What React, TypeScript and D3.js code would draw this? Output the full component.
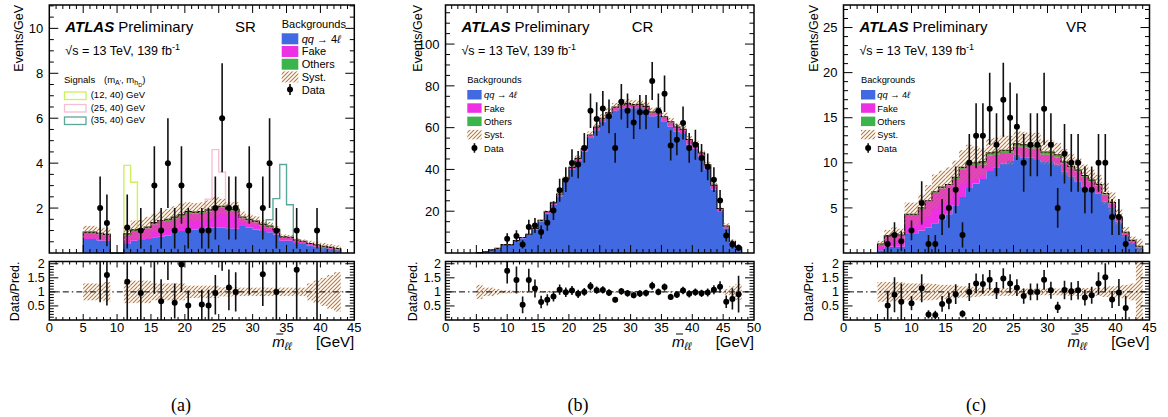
import React from "react";
import * as d3 from "d3";

const FONT = "'Liberation Sans', Arial, Helvetica, sans-serif";
const MAIN_TOP = 5;
const MAIN_BOT = 253;
const R_TOP = 261.5;
const R_BOT = 320;
const R_MAX = 2.08;

const C_QQ = "#4169e1";
const C_FAKE = "#ee30e4";
const C_OTH = "#3cb44b";
const C_SYST = "#b9783c";

// ---------------- (a) SR ----------------
const edgesSR = [5, 6, 7, 8, 9, 11, 12, 13, 14, 15, 16, 17, 18, 19, 20, 21, 22, 23, 24, 25, 26, 27, 28, 29, 30, 31, 32, 33, 34, 35, 36, 37, 38, 39, 40, 41, 42, 43];
const qqSR = [0.62, 0.62, 0.56, 0.55, 0, 0.4, 0.55, 0.58, 0.62, 0.7, 0.72, 0.78, 0.95, 0.98, 1.0, 1.05, 1.1, 1.12, 1.12, 1.12, 1.1, 1.08, 1.2, 1.12, 1.05, 0.98, 0.92, 0.82, 0.55, 0.55, 0.45, 0.4, 0.33, 0.28, 0.22, 0.19, 0.15];
const fakeSR = [0.27, 0.27, 0.28, 0.24, 0, 0.4, 0.43, 0.42, 0.48, 0.58, 0.66, 0.65, 0.58, 0.65, 0.78, 0.7, 0.68, 0.73, 0.86, 0.89, 0.78, 0.8, 0.35, 0.33, 0.32, 0.25, 0.23, 0.17, 0.15, 0.13, 0.11, 0.1, 0.07, 0.06, 0.06, 0.04, 0.03];
const othersSR = [0.04, 0.04, 0.04, 0.04, 0, 0.05, 0.05, 0.05, 0.05, 0.07, 0.07, 0.07, 0.07, 0.07, 0.07, 0.07, 0.07, 0.07, 0.07, 0.07, 0.07, 0.07, 0.05, 0.05, 0.05, 0.05, 0.05, 0.05, 0.02, 0.02, 0.02, 0.02, 0.02, 0.02, 0.02, 0.02, 0.02];
const systSR = [0.3, 0.3, 0.3, 0.35, 0, 0.4, 0.4, 0.4, 0.4, 0.3, 0.3, 0.3, 0.3, 0.3, 0.22, 0.22, 0.22, 0.22, 0.22, 0.16, 0.16, 0.16, 0.15, 0.15, 0.15, 0.15, 0.15, 0.15, 0.15, 0.15, 0.15, 0.15, 0.3, 0.4, 0.5, 0.6, 0.7];
const dataXSR = [7.5, 8.5, 11.5, 13.5, 15.5, 16.5, 17.5, 18.5, 19.5, 20.5, 22.5, 23.5, 24.5, 25.5, 26.5, 27.5, 29.5, 31.5, 32.5, 33.5, 36.5, 39.5];
const dataYSR = [2, 1.33, 1.14, 1, 3, 1, 4, 1, 3, 1, 1, 1, 2, 6, 2, 2, 3, 2, 4, 1, 1, 1];
const dataLoSR = [0.6, 0.3, 0.2, 0.2, 1.3, 0.2, 2.0, 0.2, 1.3, 0.2, 0.2, 0.2, 0.6, 3.6, 0.6, 0.6, 1.3, 0.6, 2.0, 0.2, 0.2, 0.2];
const dataHiSR = [3.4, 2.6, 2.6, 2.0, 4.75, 2.0, 6.0, 2.0, 4.75, 2.0, 2.0, 2.0, 3.4, 8.45, 3.4, 3.4, 4.75, 3.4, 6.0, 2.0, 2.0, 2.0];
const ratioXSR = [7.5, 8.5, 11.5, 13.5, 15.5, 16.5, 17.5, 18.5, 19.5, 20.5, 22.5, 23.5, 24.5, 25.5, 26.5, 27.5, 29.5, 31.5, 33.5, 36.5, 39.5];
const ratioYSR = [2.4, 1.6, 1.36, 0.96, 2.4, 0.67, 2.8, 0.61, 1.97, 0.52, 0.55, 0.52, 0.96, 2.9, 1.16, 1.0, 2.3, 1.63, 1.0, 1.79, 2.8];
const ratioLoSR = [0.63, 0.52, 0.0, 0.0, 0.93, 0.0, 1.42, 0.05, 1.0, 0.0, 0.0, 0.0, 0.2, 1.75, 0.35, 0.3, 0.9, 0.5, 0.0, 0.0, 0.0];
const ratioHiSR = [4, 2.3, 2.3, 1.9, 4, 1.45, 4, 1.3, 2.3, 1.05, 1.08, 1.08, 1.6, 4, 1.8, 1.7, 4, 2.3, 2.3, 2.3, 4];
// signals (height above the background)
const sig12Edges = [11, 12, 13];
const sig12Vals = [3.05, 2.12];
const sig25Edges = [23, 24, 25, 26];
const sig25Vals = [0.48, 2.55, 1.52];
const sig35Edges = [32, 33, 34, 35, 36];
const sig35Vals = [0.28, 1.38, 3.22, 1.45];

// ---------------- (b) CR ----------------
const edgesCR = [5, 6, 7, 8, 9, 11, 12, 13, 14, 15, 16, 17, 18, 19, 20, 21, 22, 23, 24, 25, 26, 27, 28, 29, 30, 31, 32, 33, 34, 35, 36, 37, 38, 39, 40, 41, 42, 43, 44, 45, 46, 47, 48];
const qqCR = [0.17, 0.54, 1.39, 2.09, 3.8, 5.65, 7.1, 8.65, 11.25, 14.9, 19.0, 23.1, 27.2, 34.4, 39.8, 44.0, 48.6, 55.0, 58.7, 62.8, 65.5, 68.1, 69.3, 69.8, 69.3, 69.4, 68.3, 65.5, 65.8, 63.1, 60.6, 58.1, 56.9, 51.9, 49.9, 45.5, 39.9, 30.4, 19.6, 11.85, 4.95, 2.45];
const fakeCR = [0.02, 0.05, 0.1, 0.1, 0.15, 0.2, 0.25, 0.3, 0.4, 0.5, 0.6, 0.7, 0.8, 0.9, 1.0, 1.1, 1.2, 1.3, 1.4, 1.5, 1.5, 1.5, 1.5, 1.5, 1.5, 1.6, 1.7, 1.8, 1.8, 1.9, 2.0, 2.0, 2.1, 2.2, 2.2, 2.3, 2.2, 2.0, 1.6, 1.0, 0.5, 0.2];
const othersCR = [0.01, 0.01, 0.01, 0.01, 0.05, 0.05, 0.05, 0.05, 0.05, 0.2, 0.2, 0.2, 0.2, 0.2, 0.2, 0.2, 0.2, 0.2, 0.2, 0.2, 0.2, 0.2, 0.2, 0.2, 0.2, 0.2, 0.2, 0.2, 0.2, 0.2, 0.2, 0.2, 0.2, 0.2, 0.2, 0.1, 0.1, 0.1, 0.1, 0.05, 0.05, 0.05];
const systCR = [0.25, 0.15, 0.15, 0.1, 0.05, 0.03, 0.03, 0.03, 0.03, 0.03, 0.03, 0.03, 0.03, 0.03, 0.03, 0.03, 0.03, 0.03, 0.03, 0.03, 0.03, 0.03, 0.03, 0.03, 0.03, 0.03, 0.03, 0.03, 0.03, 0.03, 0.03, 0.03, 0.03, 0.03, 0.03, 0.03, 0.03, 0.03, 0.03, 0.1, 0.2, 0.28];
const dataXCR = [10, 11.5, 12.5, 13.5, 14.5, 15.5, 16.5, 17.5, 18.5, 19.5, 20.5, 21.5, 22.5, 23.5, 24.5, 25.5, 26.5, 27.5, 28.5, 29.5, 30.5, 31.5, 32.5, 33.5, 34.5, 35.5, 36.5, 37.5, 38.5, 39.5, 40.5, 41.5, 42.5, 43.5, 44.5, 45.5, 46.5, 47.5];
const dataYCR = [6.8, 8.1, 4.1, 12.4, 13.2, 10.0, 14.5, 20.3, 30.0, 35.1, 43.1, 42.3, 50.3, 68.1, 64.1, 69.2, 65.4, 50.3, 72.4, 68.1, 62.5, 67.4, 67.4, 82.3, 68.1, 76.2, 51.5, 54.2, 62.2, 50.3, 51.8, 45.5, 41.2, 35.1, 25.1, 8.4, 4.1, 2.5];
const dataErrCR = [2.6, 2.8, 2.0, 3.5, 3.6, 3.2, 3.8, 4.5, 5.5, 5.9, 6.6, 6.5, 7.1, 8.3, 8.0, 8.3, 8.1, 7.1, 8.5, 8.3, 7.9, 8.2, 8.2, 9.1, 8.3, 8.7, 7.2, 7.4, 7.9, 7.1, 7.2, 6.7, 6.4, 5.9, 5.0, 2.9, 2.0, 1.6];
const ratioYCR = [1.75, 1.42, 0.54, 1.42, 1.12, 0.64, 0.72, 0.84, 1.08, 0.99, 1.05, 0.93, 1.0, 1.2, 1.06, 1.07, 0.97, 0.72, 1.02, 0.95, 0.88, 0.94, 0.96, 1.22, 1.0, 1.17, 0.82, 0.9, 1.05, 0.93, 0.99, 0.95, 0.98, 1.08, 1.18, 0.65, 0.75, 0.92];
const ratioErrCR = [0.45, 0.48, 0.3, 0.4, 0.32, 0.22, 0.2, 0.18, 0.18, 0.17, 0.16, 0.15, 0.14, 0.15, 0.13, 0.13, 0.12, 0.1, 0.12, 0.12, 0.11, 0.12, 0.12, 0.14, 0.12, 0.13, 0.11, 0.12, 0.13, 0.13, 0.13, 0.13, 0.14, 0.16, 0.2, 0.22, 0.38, 0.65];

// ---------------- (c) VR ----------------
const edgesVR = [5, 6, 7, 8, 9, 11, 12, 13, 14, 15, 16, 17, 18, 19, 20, 21, 22, 23, 24, 25, 26, 27, 28, 29, 30, 31, 32, 33, 34, 35, 36, 37, 38, 39, 40, 41, 42, 43, 44];
const qqVR = [0.3, 0.7, 0.7, 0.7, 2.1, 2.5, 2.8, 3.3, 3.7, 4.3, 5.3, 6.2, 7.2, 7.7, 8.2, 9.1, 9.5, 9.9, 10.2, 10.9, 10.6, 10.6, 10.3, 10.1, 10.1, 9.8, 9.0, 8.5, 7.9, 7.3, 7.0, 6.6, 5.7, 5.0, 3.5, 2.0, 1.1, 0.6];
const fakeVR = [0.65, 1.15, 1.35, 1.25, 2.1, 2.4, 2.9, 3.38, 3.45, 3.15, 2.9, 3.1, 2.55, 2.05, 1.6, 1.7, 1.4, 1.2, 0.9, 0.9, 1.1, 1.0, 1.3, 0.8, 0.8, 0.8, 0.9, 0.9, 1.15, 1.15, 0.95, 0.88, 0.8, 0.5, 0.42, 0.25, 0.26, 0.12];
const othersVR = [0.05, 0.05, 0.05, 0.05, 0.1, 0.1, 0.1, 0.12, 0.15, 0.15, 0.2, 0.2, 0.25, 0.25, 0.3, 0.3, 0.3, 0.3, 0.3, 0.3, 0.3, 0.3, 0.3, 0.3, 0.3, 0.3, 0.2, 0.2, 0.15, 0.15, 0.15, 0.12, 0.1, 0.1, 0.08, 0.05, 0.04, 0.03];
const systVR = [0.35, 0.35, 0.35, 0.35, 0.3, 0.3, 0.3, 0.28, 0.25, 0.25, 0.22, 0.2, 0.2, 0.18, 0.15, 0.14, 0.14, 0.14, 0.14, 0.12, 0.12, 0.12, 0.12, 0.12, 0.12, 0.12, 0.14, 0.14, 0.14, 0.14, 0.14, 0.14, 0.18, 0.2, 0.22, 0.25, 0.3, 1.1];
const dataXVR = [6.5, 7.5, 8.5, 10, 11.5, 12.5, 13.5, 14.5, 15.5, 16.5, 17.5, 18.5, 19.5, 20.5, 21.5, 22.5, 23.5, 24.5, 25.5, 26.5, 27.5, 28.5, 29.5, 30.5, 31.5, 32.5, 33.5, 34.5, 35.5, 36.5, 37.5, 38.5, 39.5, 40.5, 41.5];
const dataYVR = [1, 2, 1.3, 2.5, 5.55, 1, 1, 4, 5, 7, 2, 10, 13, 13, 16, 12, 17, 15, 14, 10, 12, 12, 16, 12, 5, 11, 10, 10, 7, 7, 10, 10, 4, 4, 1];
const dataErrVR = [1.0, 1.4, 1.1, 1.1, 2.4, 1.0, 1.0, 2.0, 2.2, 2.6, 1.4, 3.2, 3.6, 3.6, 4.0, 3.5, 4.1, 3.9, 3.7, 3.2, 3.5, 3.5, 4.0, 3.5, 2.2, 3.3, 3.2, 3.2, 2.6, 2.6, 3.2, 3.2, 2.0, 2.0, 1.0];
const ratioYVR = [0.52, 0.9, 0.65, 0.6, 1.13, 0.2, 0.18, 0.57, 0.68, 0.92, 0.22, 1.0, 1.3, 1.28, 1.43, 1.05, 1.48, 1.3, 1.15, 0.85, 1.0, 1.0, 1.43, 1.06, 0.45, 1.07, 1.02, 1.06, 0.8, 0.88, 1.3, 1.52, 0.73, 0.98, 0.43];
const ratioErrVR = [0.52, 0.62, 0.65, 0.25, 0.5, 0.15, 0.15, 0.28, 0.3, 0.35, 0.13, 0.32, 0.35, 0.35, 0.35, 0.3, 0.36, 0.33, 0.3, 0.27, 0.3, 0.3, 0.35, 0.3, 0.2, 0.33, 0.32, 0.33, 0.28, 0.3, 0.4, 0.5, 0.3, 0.48, 0.43];

// axis labels
const yLabelsSR = [2, 4, 6, 8, 10];
const yLabelsCR = [20, 40, 60, 80, 100];
const yLabelsVR = [5, 10, 15, 20, 25];
const ratioLabels = [0.5, 1, 1.5, 2];

type Sig = { edges: number[]; vals: number[]; color: string };

type PanelProps = {
  id: string;
  x0: number;
  x1: number;
  xMax: number;
  yMax: number;
  yMajor: number;
  yMinor: number;
  yLabels: number[];
  edges: number[];
  qq: number[];
  fake: number[];
  others: number[];
  syst: number[];
  dataX: number[];
  dataY: number[];
  dataLo: number[];
  dataHi: number[];
  rX: number[];
  rY: number[];
  rLo: number[];
  rHi: number[];
  signals?: Sig[];
  region: string;
  regionX: number;
  yTitleX: number;
  rTitleX: number;
};

function fmt(v: number) {
  return String(v);
}

function Panel(p: PanelProps) {
  const x = d3.scaleLinear().domain([0, p.xMax]).range([p.x0, p.x1]);
  const y = d3.scaleLinear().domain([0, p.yMax]).range([MAIN_BOT, MAIN_TOP]);
  const yr = d3.scaleLinear().domain([0, R_MAX]).range([R_BOT, R_TOP]);
  const n = p.edges.length - 1;
  const rows = d3.range(n).map((i) => ({
    lo: p.edges[i],
    hi: p.edges[i + 1],
    qq: p.qq[i],
    fake: p.fake[i],
    others: p.others[i],
    syst: p.syst[i],
  }));
  const rowsExt = [...rows, { ...rows[n - 1], lo: p.edges[n] }];
  const series = d3.stack<any>().keys(["qq", "fake", "others"])(rowsExt as any);
  const area = d3
    .area<any>()
    .curve(d3.curveStepAfter)
    .x((d: any) => x(d.data.lo))
    .y0((d: any) => y(d[0]))
    .y1((d: any) => y(d[1]));
  const colors = [C_QQ, C_FAKE, C_OTH];
  const tot = rows.map((r) => r.qq + r.fake + r.others);
  const outline: [number, number][] = [
    [p.edges[0], 0],
    ...rows.map((r, i) => [r.lo, tot[i]] as [number, number]),
    [p.edges[n], tot[n - 1]],
    [p.edges[n], 0],
  ];
  const line = d3
    .line<[number, number]>()
    .curve(d3.curveStepAfter)
    .x((d) => x(d[0]))
    .y((d) => y(d[1]));

  const sigPaths = (p.signals || []).map((s, k) => {
    const m = s.vals.length;
    const tops = s.vals.map((v, j) => {
      const bi = p.edges.indexOf(s.edges[j]);
      return (bi >= 0 ? tot[bi] : 0) + v;
    });
    const pts: [number, number][] = [
      [s.edges[0], 0],
      ...tops.map((t, j) => [s.edges[j], t] as [number, number]),
      [s.edges[m], tops[m - 1]],
      [s.edges[m], 0],
    ];
    return <path key={k} d={line(pts) || ""} fill="none" stroke={s.color} strokeWidth={1.4} />;
  });

  // ticks
  const tickEls: React.ReactNode[] = [];
  const xt = d3.range(1, p.xMax, 1);
  xt.forEach((v) => {
    const maj = v % 5 === 0;
    const L = maj ? 8 : 4;
    const Lr = maj ? 6 : 3;
    const xx = x(v);
    tickEls.push(<line key={`xb${v}`} x1={xx} x2={xx} y1={MAIN_BOT} y2={MAIN_BOT - L} />);
    tickEls.push(<line key={`xt${v}`} x1={xx} x2={xx} y1={MAIN_TOP} y2={MAIN_TOP + L} />);
    tickEls.push(<line key={`rb${v}`} x1={xx} x2={xx} y1={R_BOT} y2={R_BOT - Lr} />);
    tickEls.push(<line key={`rt${v}`} x1={xx} x2={xx} y1={R_TOP} y2={R_TOP + Lr} />);
  });
  const nMinor = Math.floor(p.yMax / p.yMinor + 1e-6);
  d3.range(1, nMinor + 1).forEach((k) => {
    const v = k * p.yMinor;
    if (v >= p.yMax - 1e-6) return;
    const q = v / p.yMajor;
    const maj = Math.abs(q - Math.round(q)) < 1e-6;
    const L = maj ? 9 : 4.5;
    const yy = y(v);
    tickEls.push(<line key={`yl${k}`} x1={p.x0} x2={p.x0 + L} y1={yy} y2={yy} />);
    tickEls.push(<line key={`yr${k}`} x1={p.x1} x2={p.x1 - L} y1={yy} y2={yy} />);
  });
  d3.range(1, 21).forEach((k) => {
    const v = k * 0.1;
    const maj = k % 5 === 0;
    const L = maj ? 9 : 4.5;
    const yy = yr(v);
    tickEls.push(<line key={`ryl${k}`} x1={p.x0} x2={p.x0 + L} y1={yy} y2={yy} />);
    tickEls.push(<line key={`ryr${k}`} x1={p.x1} x2={p.x1 - L} y1={yy} y2={yy} />);
  });

  const clipId = `clipR_${p.id}`;
  const clipMain = `clipM_${p.id}`;
  const xLabels = d3.range(0, p.xMax + 0.01, 5);

  return (
    <g>
      <defs>
        <clipPath id={clipId}>
          <rect x={p.x0} y={R_TOP} width={p.x1 - p.x0} height={R_BOT - R_TOP} />
        </clipPath>
        <clipPath id={clipMain}>
          <rect x={p.x0} y={MAIN_TOP} width={p.x1 - p.x0} height={MAIN_BOT - MAIN_TOP} />
        </clipPath>
      </defs>

      {/* signals behind stack */}
      <g clipPath={`url(#${clipMain})`}>{sigPaths}</g>

      {/* stack */}
      {series.map((s, i) => (
        <path key={i} d={area(s as any) || ""} fill={colors[i]} stroke="none" />
      ))}
      <path d={line(outline) || ""} fill="none" stroke="#000" strokeWidth={1.1} />

      {/* syst band */}
      {rows.map((r, i) =>
        tot[i] > 0 ? (
          <rect
            key={`sb${i}`}
            x={x(r.lo)}
            width={x(r.hi) - x(r.lo)}
            y={y(tot[i] * (1 + r.syst))}
            height={y(tot[i] * (1 - r.syst)) - y(tot[i] * (1 + r.syst))}
            fill="url(#hatch)"
          />
        ) : null
      )}

      {/* data */}
      <g clipPath={`url(#${clipMain})`}>
        {p.dataX.map((v, i) => (
          <g key={`d${i}`}>
            <line x1={x(v)} x2={x(v)} y1={y(p.dataLo[i])} y2={y(p.dataHi[i])} stroke="#111" strokeWidth={1.6} />
            <circle cx={x(v)} cy={y(p.dataY[i])} r={3} fill="#000" />
          </g>
        ))}
      </g>

      {/* ratio */}
      <g clipPath={`url(#${clipId})`}>
        {rows.map((r, i) =>
          tot[i] > 0 ? (
            <rect
              key={`rb${i}`}
              x={x(r.lo)}
              width={x(r.hi) - x(r.lo)}
              y={yr(1 + r.syst)}
              height={yr(1 - r.syst) - yr(1 + r.syst)}
              fill="url(#hatch)"
            />
          ) : null
        )}
        <line x1={p.x0} x2={p.x1} y1={yr(1)} y2={yr(1)} stroke="#000" strokeWidth={1} strokeDasharray="6 3 1.5 3" />
        {p.rX.map((v, i) => (
          <g key={`r${i}`}>
            <line x1={x(v)} x2={x(v)} y1={yr(p.rLo[i])} y2={yr(p.rHi[i])} stroke="#111" strokeWidth={1.6} />
            <circle cx={x(v)} cy={yr(p.rY[i])} r={3} fill="#000" />
          </g>
        ))}
      </g>

      {/* ticks */}
      <g stroke="#000" strokeWidth={1}>{tickEls}</g>

      {/* frames */}
      <rect x={p.x0} y={MAIN_TOP} width={p.x1 - p.x0} height={MAIN_BOT - MAIN_TOP} fill="none" stroke="#000" strokeWidth={1.5} />
      <rect x={p.x0} y={R_TOP} width={p.x1 - p.x0} height={R_BOT - R_TOP} fill="none" stroke="#000" strokeWidth={1.5} />

      {/* y labels */}
      <g fontSize={13} textAnchor="end">
        {p.yLabels.map((v) => (
          <text key={`yl${v}`} x={p.x0 - 6} y={y(v)} dy="0.36em">
            {fmt(v)}
          </text>
        ))}
      </g>
      <g fontSize={12.5} textAnchor="end">
        {ratioLabels.map((v) => (
          <text key={`rl${v}`} x={p.x0 - 4.5} y={yr(v)} dy="0.36em">
            {fmt(v)}
          </text>
        ))}
      </g>
      <g fontSize={13} textAnchor="middle">
        {xLabels.map((v) => (
          <text key={`xl${v}`} x={x(v)} y={332}>
            {fmt(v)}
          </text>
        ))}
      </g>

      {/* axis titles */}
      <text transform={`translate(${p.yTitleX},${MAIN_TOP}) rotate(-90)`} textAnchor="end" fontSize={12.5}>
        Events/GeV
      </text>
      <text transform={`translate(${p.rTitleX},${R_TOP}) rotate(-90)`} textAnchor="end" fontSize={12.5}>
        Data/Pred.
      </text>
      <text x={p.x1 - 82} y={347} fontSize={15} fontStyle="italic">
        m
        <tspan fontSize={11} dy={3}>
          ℓℓ
        </tspan>
      </text>
      <line x1={p.x1 - 78} x2={p.x1 - 71} y1={334} y2={334} stroke="#000" strokeWidth={1} />
      <text x={p.x1} y={347} fontSize={15} textAnchor="end">
        [GeV]
      </text>

      {/* ATLAS label */}
      <text x={p.x0 + 16} y={32} fontSize={15}>
        <tspan fontWeight="bold" fontStyle="italic">
          ATLAS
        </tspan>
        <tspan dx={4}>Preliminary</tspan>
      </text>
      <text x={p.regionX} y={32} fontSize={15}>
        {p.region}
      </text>
      <text x={p.x0 + 16} y={55} fontSize={12.5}>
        √s = 13 TeV, 139 fb
        <tspan fontSize={9} dy={-5}>
          -1
        </tspan>
      </text>
    </g>
  );
}

function BkgLegend(props: {
  x: number;
  titleY: number;
  top: number;
  step: number;
  sw: number;
  sh: number;
  fs: number;
  tdx: number;
  tdy: number;
}) {
  const { x, titleY, top, step, sw, sh, fs, tdx, tdy } = props;
  const labels: React.ReactNode[] = [
    <>
      <tspan fontStyle="italic">qq</tspan> → 4<tspan fontStyle="italic">ℓ</tspan>
    </>,
    "Fake",
    "Others",
    "Syst.",
    "Data",
  ];
  return (
    <g fontSize={fs}>
      <text x={x} y={titleY}>
        Backgrounds
      </text>
      {labels.map((lab, i) => {
        const ty = top + step * i;
        let sw_: React.ReactNode = null;
        if (i < 3) sw_ = <rect x={x} y={ty} width={sw} height={sh} fill={[C_QQ, C_FAKE, C_OTH][i]} />;
        else if (i === 3) sw_ = <rect x={x} y={ty} width={sw} height={sh} fill="url(#hatch)" />;
        else
          sw_ = (
            <g>
              <line x1={x + sw / 2} x2={x + sw / 2} y1={ty} y2={ty + sh} stroke="#111" strokeWidth={1.6} />
              <circle cx={x + sw / 2} cy={ty + sh / 2} r={3} fill="#000" />
            </g>
          );
        return (
          <g key={i}>
            {sw_}
            <text x={x + tdx} y={ty + tdy}>
              {lab}
            </text>
          </g>
        );
      })}
    </g>
  );
}

function SignalLegend() {
  const entries = [
    { label: "(12, 40) GeV", color: "#cdf05c" },
    { label: "(25, 40) GeV", color: "#f6bfd2" },
    { label: "(35, 40) GeV", color: "#5aa89c" },
  ];
  return (
    <g fontSize={9.5}>
      <text x={64} y={83.3}>
        Signals
        <tspan x={104}>(m</tspan>
        <tspan fontSize={7} dy={2}>
          A'
        </tspan>
        <tspan dy={-2}>, m</tspan>
        <tspan fontSize={7} dy={2}>
          h
        </tspan>
        <tspan fontSize={5.5} dy={1.5}>
          D
        </tspan>
        <tspan dy={-3.5}>)</tspan>
      </text>
      {entries.map((e, i) => (
        <g key={i}>
          <rect x={64.5} y={92 + 12.5 * i} width={21.5} height={7.5} fill="none" stroke={e.color} strokeWidth={1.3} />
          <text x={90.7} y={98 + 12.7 * i}>
            {e.label}
          </text>
        </g>
      ))}
    </g>
  );
}

export default function App() {
  return (
    <svg
      width={1168}
      height={417}
      style={{ position: "absolute", left: 0, top: 0, display: "block" }}
      fontFamily={FONT}
    >
      <defs>
        <pattern id="hatch" patternUnits="userSpaceOnUse" width={4} height={4}>
          <path d="M-1,1 L1,-1 M0,4 L4,0 M3,5 L5,3" stroke={C_SYST} strokeWidth={1.1} />
        </pattern>
      </defs>
      <rect x={0} y={0} width={1168} height={417} fill="#fff" />

      <Panel
        id="a"
        x0={49.3}
        x1={354.3}
        xMax={45}
        yMax={11.04}
        yMajor={2}
        yMinor={0.5}
        yLabels={yLabelsSR}
        edges={edgesSR}
        qq={qqSR}
        fake={fakeSR}
        others={othersSR}
        syst={systSR}
        dataX={dataXSR}
        dataY={dataYSR}
        dataLo={dataLoSR}
        dataHi={dataHiSR}
        rX={ratioXSR}
        rY={ratioYSR}
        rLo={ratioLoSR}
        rHi={ratioHiSR}
        signals={[
          { edges: sig12Edges, vals: sig12Vals, color: "#cdf05c" },
          { edges: sig25Edges, vals: sig25Vals, color: "#f6bfd2" },
          { edges: sig35Edges, vals: sig35Vals, color: "#5aa89c" },
        ]}
        region="SR"
        regionX={235}
        yTitleX={23}
        rTitleX={18.5}
      />
      <BkgLegend x={281.7} titleY={27.7} top={33.3} step={12.7} sw={16.6} sh={11} fs={11} tdx={20} tdy={9.4} />
      <SignalLegend />

      <Panel
        id="b"
        x0={445.5}
        x1={754}
        xMax={50}
        yMax={118.7}
        yMajor={20}
        yMinor={5}
        yLabels={yLabelsCR}
        edges={edgesCR}
        qq={qqCR}
        fake={fakeCR}
        others={othersCR}
        syst={systCR}
        dataX={dataXCR}
        dataY={dataYCR}
        dataLo={dataYCR.map((v, i) => v - dataErrCR[i])}
        dataHi={dataYCR.map((v, i) => v + dataErrCR[i])}
        rX={dataXCR}
        rY={ratioYCR}
        rLo={ratioYCR.map((v, i) => v - ratioErrCR[i])}
        rHi={ratioYCR.map((v, i) => v + ratioErrCR[i])}
        region="CR"
        regionX={631.7}
        yTitleX={421.5}
        rTitleX={416.7}
      />
      <BkgLegend x={467.3} titleY={83.3} top={90} step={13.3} sw={14.3} sh={9.5} fs={9.3} tdx={16.7} tdy={8.3} />

      <Panel
        id="c"
        x0={843.5}
        x1={1149.5}
        xMax={45}
        yMax={27.5}
        yMajor={5}
        yMinor={1}
        yLabels={yLabelsVR}
        edges={edgesVR}
        qq={qqVR}
        fake={fakeVR}
        others={othersVR}
        syst={systVR}
        dataX={dataXVR}
        dataY={dataYVR}
        dataLo={dataYVR.map((v, i) => v - dataErrVR[i])}
        dataHi={dataYVR.map((v, i) => v + dataErrVR[i])}
        rX={dataXVR}
        rY={ratioYVR}
        rLo={ratioYVR.map((v, i) => v - ratioErrVR[i])}
        rHi={ratioYVR.map((v, i) => v + ratioErrVR[i])}
        region="VR"
        regionX={1066}
        yTitleX={817.5}
        rTitleX={813.3}
      />
      <BkgLegend x={861} titleY={83.3} top={90} step={13.3} sw={14.3} sh={9.5} fs={9.3} tdx={16.3} tdy={8.3} />

      <g fontFamily="'Liberation Serif', 'Times New Roman', serif" fontSize={18} textAnchor="middle">
        <text x={181} y={411}>
          (a)
        </text>
        <text x={578} y={411}>
          (b)
        </text>
        <text x={976} y={411}>
          (c)
        </text>
      </g>
    </svg>
  );
}
